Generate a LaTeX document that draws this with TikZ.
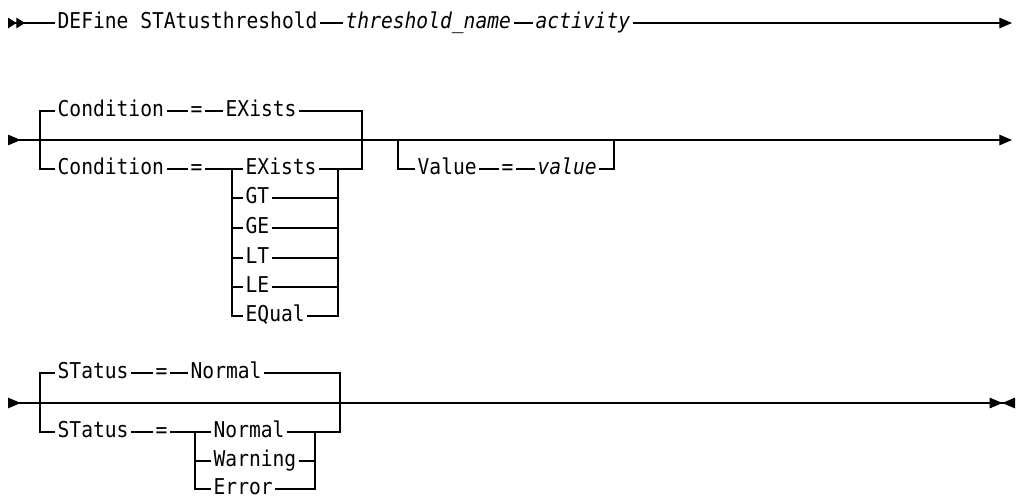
\documentclass[tikz,border=0pt]{standalone}
\usepackage{fontspec}
\newfontfamily\synfont[FakeStretch=0.9]{DejaVu Sans Mono}
\usetikzlibrary{arrows.meta}

\begin{document}
\begin{tikzpicture}[
                x=0.025cm, y=-0.025cm, line width=0.75pt,
                ibm/.tip = {Triangle[length=9pt, width=7.5pt]},
                ibmhalf/.tip = {Triangle[length=6pt, width=7.5pt]},
                kw/.style = {font=\synfont\fontsize{15.5pt}{17pt}\selectfont, anchor=west, inner xsep=1.5pt, inner ysep=0pt, text height=0.73em, text depth=0pt},
                var/.style = {kw, font=\synfont\itshape\fontsize{15.5pt}{17pt}\selectfont}
        ]
        \useasboundingbox (0,0) rectangle (1016,496);
        % first line
        \coordinate (s1) at (8,23);
        \coordinate (e1) at (1012,23);
        \node[kw] (define) at (55,23) {DEFine STAtusthreshold};
        \node[var] (tname) at (343,23) {threshold\_name};
        \node[var] (act) at (533,23) {activity};
        \draw[{ibmhalf[reversed]ibmhalf[reversed]}-] (s1) -- (define);
        \draw (define) -- (tname) -- (act);
        \draw[-{ibm}] (act) -- (e1);

        % second line: condition and value
        \coordinate (s2) at (8,140);
        \coordinate (e2) at (1012,140);
        \coordinate (cl) at (40,140);
        \coordinate (cr) at (362,140);
        \coordinate (kl) at (232,169);
        \coordinate (kr) at (338,169);
        \coordinate (vl) at (398,140);
        \coordinate (vr) at (614,140);
        \draw[{ibm[reversed]}-{ibm}] (s2) -- (e2);
        \node[kw] (cond1) at (55,111) {Condition};
        \node[kw] (eq1) at (188,111) {=};
        \node[kw] (exists1) at (223,111) {EXists};
        \draw (cl) |- (cond1) -- (eq1) -- (exists1) -| (cr);
        \node[kw] (cond2) at (55,169) {Condition};
        \node[kw] (eq2) at (188,169) {=};
        \node[kw] (exists2) at (243,169) {EXists};
        \node[kw] (gt) at (243,198) {GT};
        \node[kw] (ge) at (243,228) {GE};
        \node[kw] (lt) at (243,258) {LT};
        \node[kw] (le) at (243,287) {LE};
        \node[kw] (equal) at (243,316) {EQual};
        \draw (cl) |- (cond2) -- (eq2) -- (exists2) -| (cr);
        \draw (kl) |- (gt) -| (kr);
        \draw (kl) |- (ge) -| (kr);
        \draw (kl) |- (lt) -| (kr);
        \draw (kl) |- (le) -| (kr);
        \draw (kl) |- (equal) -| (kr);
        \node[kw] (value) at (415,169) {Value};
        \node[kw] (eq3) at (499,169) {=};
        \node[var] (valvar) at (535,169) {value};
        \draw (vl) |- (value) -- (eq3) -- (valvar) -| (vr);

        % third line: status
        \coordinate (s3) at (8,403);
        \coordinate (e3) at (1015,403);
        \coordinate (tl) at (40,403);
        \coordinate (tr) at (340,403);
        \coordinate (ml) at (195,432);
        \coordinate (mr) at (315,432);
        \draw[{ibm[reversed]}-{ibm[]ibm[reversed]}] (s3) -- (e3);
        \node[kw] (status1) at (55,373) {STatus};
        \node[kw] (eq4) at (153,373) {=};
        \node[kw] (normal1) at (188,373) {Normal};
        \draw (tl) |- (status1) -- (eq4) -- (normal1) -| (tr);
        \node[kw] (status2) at (55,432) {STatus};
        \node[kw] (eq5) at (153,432) {=};
        \node[kw] (normal2) at (211,432) {Normal};
        \node[kw] (warning) at (211,461) {Warning};
        \node[kw] (error) at (211,489) {Error};
        \draw (tl) |- (status2) -- (eq5) -- (normal2) -| (tr);
        \draw (ml) |- (warning) -| (mr);
        \draw (ml) |- (error) -| (mr);
\end{tikzpicture}
\end{document}
